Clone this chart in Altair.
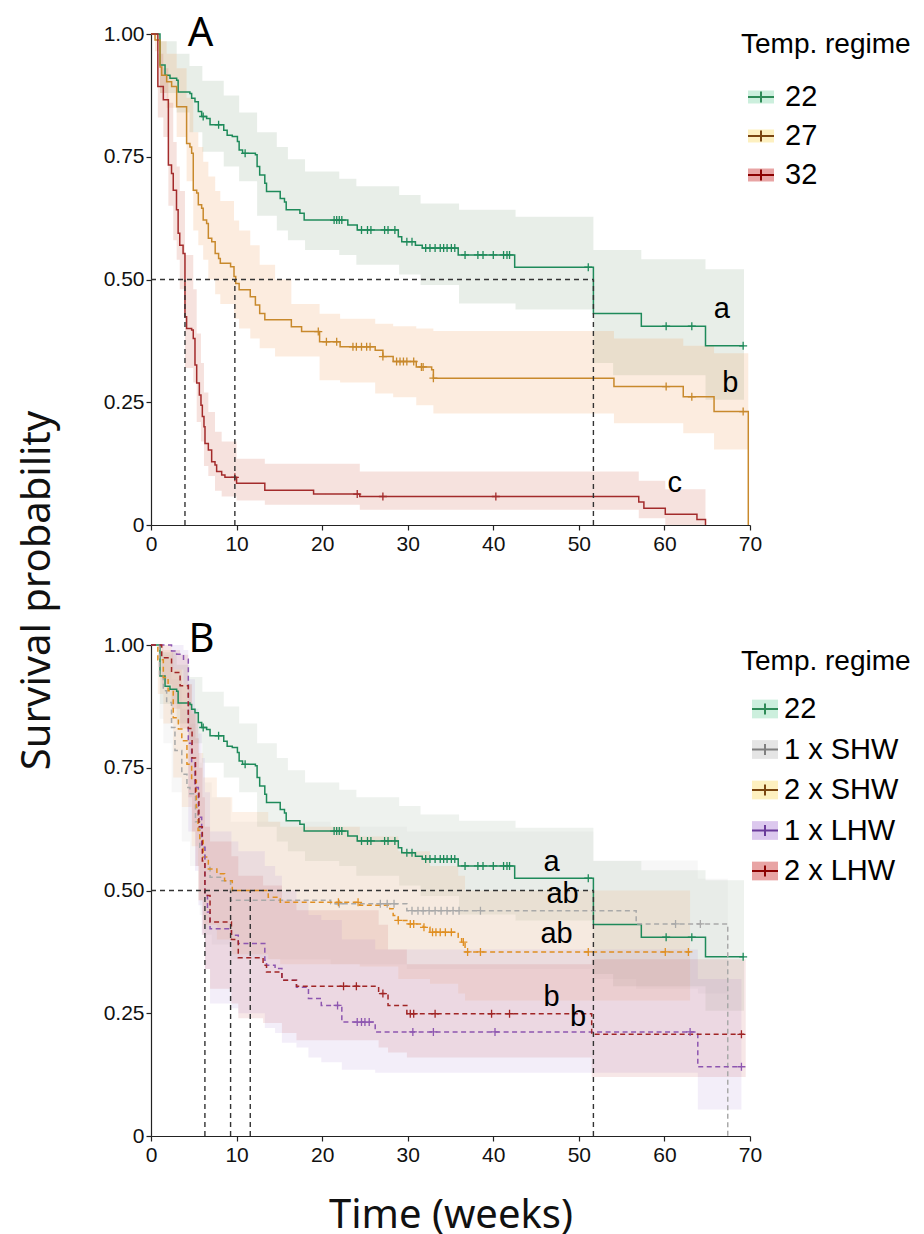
import altair as alt
import pandas as pd

X_TICKS = [0, 10, 20, 30, 40, 50, 60, 70]
Y_TICKS = [0, 0.25, 0.5, 0.75, 1.0]

# ---------------- 22 (used in A and B) ----------------
t_22 = [0, 1.05, 1.64, 2.22, 3.0, 3.17, 4.55, 4.75, 5.14, 5.53, 5.92, 6.5, 6.9, 8.5, 8.9, 9.5, 10.1, 10.3, 10.7, 12.2,
        12.4, 12.7, 13.3, 13.5, 15.1, 15.6, 15.8, 17.4, 17.9, 23.0, 24.1, 28.9, 29.3, 30.9, 31.7, 35.9, 42.5, 51.7, 57.3, 64.8]
s_22 = [1.0, 0.937, 0.916, 0.910, 0.906, 0.882, 0.879, 0.869, 0.862, 0.842, 0.832, 0.828, 0.815, 0.804, 0.794, 0.791, 0.781, 0.764, 0.757, 0.754,
        0.730, 0.713, 0.696, 0.679, 0.665, 0.658, 0.642, 0.635, 0.621, 0.611, 0.601, 0.587, 0.577, 0.570, 0.564, 0.550, 0.525, 0.431, 0.405, 0.365]
end_22 = 69.3
cens_22 = [6.1, 7.9, 11.0, 21.4, 21.7, 22.0, 22.3, 24.6, 25.3, 25.7, 27.3, 27.7, 28.5, 29.9, 30.5, 32.1, 32.6, 33.2, 33.8, 34.2,
           34.6, 35.1, 35.5, 36.7, 38.2, 38.8, 40.0, 41.2, 41.6, 41.9, 51.1, 60.2, 63.2, 69.2]
band_t_22 = [0, 1.05, 3.0, 4.5, 6.0, 8.5, 10.3, 12.4, 14.7, 16.0, 18.0, 22.0, 24.0, 29.0, 31.5, 36.0, 42.6, 51.7, 54.0, 57.3, 64.8, 69.3]
band_hi_22 = [1.0, 0.985, 0.96, 0.935, 0.905, 0.875, 0.84, 0.80, 0.77, 0.745, 0.72, 0.705, 0.69, 0.672, 0.655, 0.642, 0.628, 0.56, 0.56, 0.541, 0.521, 0.521]
band_lo_22 = [1.0, 0.88, 0.84, 0.80, 0.76, 0.73, 0.70, 0.63, 0.60, 0.58, 0.56, 0.55, 0.53, 0.51, 0.489, 0.451, 0.439, 0.33, 0.305, 0.305, 0.255, 0.255]

# ---------------- 27 (A) ----------------
t_27 = [0, 0.47, 1.05, 1.25, 1.83, 2.41, 3.0, 4.16, 4.55, 4.75, 4.94, 5.34, 5.53, 5.92, 6.1, 6.5, 6.7, 7.1, 7.5, 7.9,
        8.1, 9.3, 9.7, 9.9, 10.3, 11.6, 12.2, 12.7, 13.3, 16.4, 17.6, 19.7, 22.1, 26.2, 27.1, 28.3, 31.0, 32.8, 33.0, 54.1,
        62.2, 65.8, 69.8]
s_27 = [1.0, 0.988, 0.933, 0.916, 0.903, 0.893, 0.852, 0.777, 0.770, 0.757, 0.682, 0.676, 0.652, 0.645, 0.621, 0.614, 0.584, 0.577, 0.553, 0.543,
        0.533, 0.526, 0.506, 0.492, 0.479, 0.465, 0.448, 0.431, 0.418, 0.404, 0.394, 0.373, 0.363, 0.356, 0.343, 0.333, 0.322, 0.316, 0.299, 0.282,
        0.261, 0.231, 0.0]
end_27 = 69.8
cens_27 = [19.55, 20.5, 21.7, 23.6, 24.0, 24.6, 25.2, 25.6, 27.1, 28.7, 29.1, 29.5, 29.9, 30.7, 31.6, 31.8, 33.0, 60.2, 63.2, 69.2]
band_t_27 = [0, 0.47, 1.05, 1.83, 3.0, 4.16, 4.94, 5.53, 6.1, 6.7, 7.5, 8.1, 9.7, 10.3, 11.6, 12.7, 14.5, 16.4, 19.7, 22.1,
             26.2, 28.3, 31.0, 33.0, 54.1, 62.2, 65.8, 69.8]
band_hi_27 = [1.0, 1.0, 0.985, 0.96, 0.93, 0.87, 0.80, 0.77, 0.74, 0.71, 0.68, 0.66, 0.62, 0.60, 0.57, 0.53, 0.50, 0.45, 0.43, 0.42,
              0.41, 0.405, 0.40, 0.395, 0.38, 0.365, 0.35, 0.35]
band_lo_27 = [1.0, 0.965, 0.88, 0.85, 0.79, 0.70, 0.60, 0.57, 0.54, 0.50, 0.47, 0.45, 0.42, 0.40, 0.38, 0.36, 0.343, 0.343, 0.295, 0.29,
              0.268, 0.26, 0.244, 0.227, 0.207, 0.187, 0.154, 0.154]

# ---------------- 32 (A) ----------------
t_32 = [0, 0.8, 1.44, 2.03, 2.4, 2.6, 2.98, 3.17, 3.36, 3.75, 3.97, 4.16, 4.75, 4.94, 5.14, 5.34, 5.65, 5.84, 6.0, 6.19,
        6.31, 6.70, 7.09, 7.48, 7.67, 8.26, 8.64, 10.0, 13.3, 19.0, 24.4, 57.0, 57.6, 60.1, 63.8, 64.8]
s_32 = [1.0, 0.893, 0.866, 0.733, 0.716, 0.682, 0.642, 0.594, 0.570, 0.553, 0.424, 0.400, 0.397, 0.380, 0.326, 0.289, 0.265, 0.244, 0.221, 0.200,
        0.166, 0.153, 0.129, 0.122, 0.109, 0.102, 0.097, 0.085, 0.071, 0.063, 0.058, 0.047, 0.034, 0.022, 0.011, 0.0]
end_32 = 64.8
cens_32 = [9.8, 24.1, 27.1, 40.3]
band_t_32 = [0, 0.8, 1.44, 2.03, 2.6, 3.0, 3.36, 3.97, 4.94, 5.34, 5.84, 6.19, 6.7, 7.48, 8.26, 10.0, 13.3, 24.4, 57.0, 60.1, 64.8]
band_hi_32 = [1.0, 0.96, 0.93, 0.86, 0.78, 0.73, 0.68, 0.55, 0.48, 0.39, 0.33, 0.27, 0.23, 0.19, 0.17, 0.135, 0.125, 0.109, 0.09, 0.073, 0.073]
band_lo_32 = [1.0, 0.83, 0.79, 0.65, 0.58, 0.54, 0.48, 0.32, 0.29, 0.21, 0.17, 0.12, 0.10, 0.07, 0.058, 0.05, 0.041, 0.031, 0.014, 0.0, 0.0]

# ---------------- 1 x SHW (B) ----------------
t_g = [0, 1.0, 1.44, 1.83, 2.4, 2.8, 3.6, 4.2, 4.55, 5.2, 5.7, 6.3, 6.9, 8.3, 9.3, 21.0, 29.9, 56.7, 67.4]
s_g = [1.0, 0.94, 0.907, 0.883, 0.832, 0.785, 0.737, 0.710, 0.697, 0.64, 0.588, 0.547, 0.527, 0.520, 0.480, 0.473, 0.459, 0.432, 0.0]
end_g = 67.4
cens_g = [22.0, 26.8, 27.6, 28.4, 30.5, 31.2, 31.8, 32.5, 33.2, 33.9, 34.6, 35.3, 36.0, 38.5, 61.3, 64.2]
band_t_g = [0, 1.0, 1.44, 2.4, 3.6, 4.55, 5.7, 6.3, 7.1, 9.3, 21.0, 29.9, 51.7, 56.7, 63.9, 67.4]
band_hi_g = [1.0, 0.99, 0.98, 0.93, 0.87, 0.84, 0.76, 0.72, 0.69, 0.64, 0.63, 0.62, 0.561, 0.561, 0.524, 0.524]
band_lo_g = [1.0, 0.85, 0.80, 0.70, 0.60, 0.55, 0.45, 0.41, 0.39, 0.36, 0.35, 0.34, 0.32, 0.30, 0.29, 0.29]

# ---------------- 2 x SHW (B) ----------------
t_o = [0, 0.8, 1.44, 2.0, 2.6, 3.2, 3.6, 4.2, 4.75, 5.3, 5.5, 5.7, 6.1, 6.7, 7.7, 8.6, 9.5, 13.7, 15.1, 24.4,
       27.9, 28.3, 28.9, 29.9, 31.8, 32.6, 35.9, 36.3, 36.7]
s_o = [1.0, 0.97, 0.934, 0.907, 0.852, 0.829, 0.805, 0.757, 0.724, 0.669, 0.622, 0.602, 0.568, 0.544, 0.534, 0.520, 0.500, 0.486, 0.476, 0.470,
       0.463, 0.449, 0.439, 0.432, 0.425, 0.415, 0.405, 0.395, 0.375]
end_o = 63.0
cens_o = [21.9, 24.2, 28.9, 30.3, 30.7, 31.9, 32.9, 33.3, 33.8, 34.4, 35.1, 36.5, 37.0, 38.5, 51.1, 60.1, 62.8]
band_t_o = [0, 0.8, 1.44, 2.6, 3.6, 4.75, 5.5, 6.1, 7.7, 9.5, 13.7, 15.1, 24.4, 28.9, 32.6, 35.9, 36.7, 63.0]
band_hi_o = [1.0, 1.0, 0.99, 0.95, 0.92, 0.86, 0.78, 0.73, 0.69, 0.66, 0.64, 0.63, 0.61, 0.58, 0.55, 0.53, 0.50, 0.50]
band_lo_o = [1.0, 0.90, 0.84, 0.73, 0.67, 0.59, 0.48, 0.43, 0.40, 0.37, 0.36, 0.35, 0.345, 0.32, 0.31, 0.29, 0.276, 0.276]

# ---------------- 1 x LHW (B) ----------------
t_p = [0, 2.4, 3.0, 3.8, 4.36, 4.75, 5.14, 5.53, 5.92, 6.3, 6.6, 6.9, 9.4, 10.2, 13.3, 13.5, 14.5, 15.3, 17.0, 18.4,
       19.9, 22.3, 26.2, 63.9]
s_p = [1.0, 0.988, 0.981, 0.971, 0.80, 0.76, 0.71, 0.649, 0.588, 0.49, 0.456, 0.422, 0.409, 0.392, 0.358, 0.348, 0.341, 0.317, 0.303, 0.280,
       0.266, 0.232, 0.212, 0.141]
end_p = 69.0
cens_p = [21.8, 24.1, 24.6, 25.0, 25.5, 30.6, 33.0, 40.2, 63.0, 69.0]
band_t_p = [0, 2.4, 3.8, 4.36, 5.14, 5.53, 5.92, 6.3, 6.9, 9.4, 10.2, 13.3, 14.5, 15.3, 17.0, 18.4, 19.9, 22.3, 26.2, 63.9, 69.0]
band_hi_p = [1.0, 1.0, 0.99, 0.93, 0.87, 0.82, 0.77, 0.70, 0.62, 0.60, 0.58, 0.55, 0.53, 0.50, 0.48, 0.45, 0.44, 0.40, 0.38, 0.32, 0.32]
band_lo_p = [1.0, 0.95, 0.92, 0.62, 0.54, 0.47, 0.41, 0.34, 0.27, 0.26, 0.25, 0.22, 0.21, 0.19, 0.18, 0.16, 0.15, 0.135, 0.129, 0.054, 0.054]

# ---------------- 2 x LHW (B) ----------------
t_r = [0, 1.25, 2.4, 3.4, 4.36, 4.8, 5.2, 5.6, 6.0, 6.3, 6.9, 9.4, 10.2, 13.1, 13.5, 15.3, 17.0, 26.6, 27.7, 29.9, 51.5]
s_r = [1.0, 0.974, 0.944, 0.917, 0.83, 0.77, 0.70, 0.63, 0.56, 0.49, 0.436, 0.40, 0.363, 0.348, 0.334, 0.317, 0.305, 0.29, 0.266, 0.249, 0.207]
end_r = 69.5
cens_r = [22.5, 24.0, 27.1, 30.3, 30.7, 33.2, 39.8, 41.9, 69.0]
band_t_r = [0, 1.25, 2.4, 3.4, 4.36, 4.8, 5.2, 5.6, 6.0, 6.3, 6.9, 9.4, 10.2, 13.1, 15.3, 17.0, 26.6, 27.7, 29.9, 51.5, 69.5]
band_hi_r = [1.0, 1.0, 0.99, 0.98, 0.92, 0.87, 0.81, 0.75, 0.69, 0.63, 0.60, 0.57, 0.53, 0.51, 0.48, 0.46, 0.43, 0.38, 0.35, 0.36, 0.36]
band_lo_r = [1.0, 0.92, 0.87, 0.83, 0.69, 0.62, 0.55, 0.48, 0.41, 0.34, 0.30, 0.27, 0.24, 0.23, 0.21, 0.195, 0.18, 0.17, 0.16, 0.12, 0.12]

# medians and significance letters
medians_A = [3.97, 9.8, 51.7]
medians_B = [6.3, 9.3, 11.6, 51.7]
letters_A = ["a", "b", "c"]
letters_A_t = [66.7, 67.7, 61.2]
letters_A_s = [0.439, 0.290, 0.086]
letters_B = ["a", "ab", "ab", "b", "b"]
letters_B_t = [46.8, 48.1, 47.4, 46.8, 49.9]
letters_B_s = [0.558, 0.493, 0.411, 0.284, 0.243]

groups_A = ["22", "27", "32"]
groups_B = ["22", "1 x SHW", "2 x SHW", "1 x LHW", "2 x LHW"]

# styles
line_A = ["#1e8a5a", "#c8892c", "#a32b2b"]
band_A = ["#8aa88a", "#f0a060", "#d0705a"]
dash_A = [[1, 0], [1, 0], [1, 0]]
legfill_A = ["#ccefdd", "#fdf0c0", "#e8a4a4"]
legline_A = ["#2e8b57", "#7a4510", "#8b0000"]

line_B = ["#1e8a5a", "#a9a9a9", "#e08f22", "#8d56b0", "#a02525"]
band_B = ["#8aa88a", "#c8c8c8", "#f0a060", "#b090d8", "#c86060"]
dash_B = [[1, 0], [5, 3.5], [5, 3.5], [5, 3.5], [5, 3.5]]
legfill_B = ["#ccefdd", "#e5e5e5", "#fdf0c0", "#dcc8ee", "#e8a4a4"]
legline_B = ["#2e8b57", "#808080", "#7a4510", "#6a3a9a", "#8b0000"]

PLUS = "M-1,0H1M0,-1V1"


def step_at(ts, ss, c):
    v = ss[0]
    for t, s in zip(ts, ss):
        if t <= c:
            v = s
        else:
            break
    return v


def curve(name, t, s, end, cens, bt, blo, bhi):
    return dict(name=name, t=t, s=s, end=end, cens=cens, bt=bt, blo=blo, bhi=bhi)


curves_A = [
    curve("22", t_22, s_22, end_22, cens_22, band_t_22, band_lo_22, band_hi_22),
    curve("27", t_27, s_27, end_27, cens_27, band_t_27, band_lo_27, band_hi_27),
    curve("32", t_32, s_32, end_32, cens_32, band_t_32, band_lo_32, band_hi_32),
]
curves_B = [
    curve("22", t_22, s_22, end_22, cens_22, band_t_22, band_lo_22, band_hi_22),
    curve("1 x SHW", t_g, s_g, end_g, cens_g, band_t_g, band_lo_g, band_hi_g),
    curve("2 x SHW", t_o, s_o, end_o, cens_o, band_t_o, band_lo_o, band_hi_o),
    curve("1 x LHW", t_p, s_p, end_p, cens_p, band_t_p, band_lo_p, band_hi_p),
    curve("2 x LHW", t_r, s_r, end_r, cens_r, band_t_r, band_lo_r, band_hi_r),
]


def build_panel(curves, groups, lcol, bcol, band_op, dashes, lfill, lline, medians, ltxt, lt, ls, tag, tag_t, tag_s,
                leg_x, leg_lab_dx, leg_range, leg_title_x, leg_title_y, leg_rect, x_title, y_axis_title):
    line_rows, band_rows, cens_rows = [], [], []
    for c in curves:
        for t, s in zip(c["t"], c["s"]):
            line_rows.append({"group": c["name"], "t": t, "s": s})
        if c["end"] > c["t"][-1]:
            line_rows.append({"group": c["name"], "t": c["end"], "s": c["s"][-1]})
        for t, lo, hi in zip(c["bt"], c["blo"], c["bhi"]):
            band_rows.append({"group": c["name"], "t": t, "lo": lo, "hi": hi})
        for ct in c["cens"]:
            cens_rows.append({"group": c["name"], "t": ct, "s": step_at(c["t"], c["s"], ct)})
    med_rows = [{"x": m, "x2": m, "y": 0.0, "y2": 0.5} for m in medians]
    med_rows.append({"x": 0.0, "x2": max(medians), "y": 0.5, "y2": 0.5})
    let_df = pd.DataFrame({"txt": ltxt, "t": lt, "s": ls})
    tag_df = pd.DataFrame({"txt": [tag], "t": [tag_t], "s": [tag_s]})

    xs = alt.Scale(domain=[0, 70], nice=False, zero=False)
    ys = alt.Scale(domain=[0, 1], nice=False, zero=False)
    xaxis = alt.Axis(values=X_TICKS, format="d", title=x_title, labelPadding=3, titlePadding=30,
                     tickSize=5, labelFlush=False)
    if y_axis_title:
        yaxis = alt.Axis(values=Y_TICKS, title=y_axis_title, tickSize=5, labelPadding=2,
                         labelExpr="datum.value == 0 ? '0' : format(datum.value, '.2f')",
                         titleX=-114, titleY=556, titleAngle=270, titleAlign="center", titleBaseline="middle")
    else:
        yaxis = alt.Axis(values=Y_TICKS, title=None, tickSize=5, labelPadding=2,
                         labelExpr="datum.value == 0 ? '0' : format(datum.value, '.2f')")

    def X(f):
        return alt.X(f, scale=xs, axis=xaxis)

    def Y(f):
        return alt.Y(f, scale=ys, axis=yaxis)

    fill_enc = alt.Fill("group:N", scale=alt.Scale(domain=groups, range=bcol), legend=None)
    stroke_enc = alt.Stroke("group:N", scale=alt.Scale(domain=groups, range=lcol), legend=None)
    dash_enc = alt.StrokeDash("group:N", scale=alt.Scale(domain=groups, range=dashes), legend=None)

    bands = alt.Chart(pd.DataFrame(band_rows)).mark_area(interpolate="step-after", fillOpacity=band_op, strokeWidth=0).encode(
        x=X("t:Q"), y=Y("lo:Q"), y2="hi:Q", fill=fill_enc)
    lines = alt.Chart(pd.DataFrame(line_rows)).mark_line(interpolate="step-after", strokeWidth=1.5).encode(
        x=X("t:Q"), y=Y("s:Q"), stroke=stroke_enc, strokeDash=dash_enc)
    cens = alt.Chart(pd.DataFrame(cens_rows)).mark_point(shape=PLUS, filled=False, size=64, strokeWidth=1.3, opacity=1).encode(
        x=X("t:Q"), y=Y("s:Q"), stroke=stroke_enc)
    meds = alt.Chart(pd.DataFrame(med_rows)).mark_rule(strokeDash=[5, 4], color="#333333", strokeWidth=1.4).encode(
        x=X("x:Q"), x2="x2:Q", y=Y("y:Q"), y2="y2:Q")
    lets = alt.Chart(let_df).mark_text(font="Liberation Sans", fontSize=29, color="black", baseline="middle").encode(
        x=X("t:Q"), y=Y("s:Q"), text="txt:N")
    tags = alt.Chart(tag_df).mark_text(font="Noto Sans", fontSize=40, color="black", baseline="middle").encode(
        x=X("t:Q"), y=Y("s:Q"), text="txt:N")
    main = alt.layer(bands, lines, cens, meds, lets, tags)

    # legend
    leg_df = pd.DataFrame({"group": groups})
    leg_y = alt.Y("group:N", scale=alt.Scale(type="point", domain=groups, range=leg_range, padding=0), axis=None)
    key_bg = alt.Chart(leg_df).mark_point(shape=leg_rect, filled=True, size=676, opacity=1, strokeWidth=0).encode(
        x=alt.value(leg_x), y=leg_y,
        fill=alt.Fill("group:N", scale=alt.Scale(domain=groups, range=lfill), legend=None))
    key_ln = alt.Chart(leg_df).mark_point(shape="M-1,0H1M0,-0.42V0.42", filled=False, size=676, strokeWidth=2, opacity=1).encode(
        x=alt.value(leg_x), y=leg_y,
        stroke=alt.Stroke("group:N", scale=alt.Scale(domain=groups, range=lline), legend=None))
    key_tx = alt.Chart(leg_df).mark_text(align="left", baseline="middle", font="Liberation Sans", fontSize=29, color="black").encode(
        x=alt.value(leg_x + leg_lab_dx), y=leg_y, text="group:N")
    key_ti = alt.Chart(pd.DataFrame({"txt": ["Temp. regime"]})).mark_text(
        align="left", baseline="alphabetic", font="Liberation Sans", fontSize=28, color="black").encode(
        x=alt.value(leg_title_x), y=alt.value(leg_title_y), text="txt:N")
    legend = alt.layer(key_bg, key_ln, key_tx, key_ti)

    return alt.layer(main, legend).resolve_scale(y="independent", fill="independent", stroke="independent").properties(
        width=599, height=491)


panel_A = build_panel(curves_A, groups_A, line_A, band_A, 0.2, dash_A, legfill_A, legline_A, medians_A,
                      letters_A, letters_A_t, letters_A_s, "A", 5.8, 1.0,
                      leg_x=610, leg_lab_dx=24, leg_range=[63, 141], leg_title_x=590, leg_title_y=19,
                      leg_rect="M-1,-0.5H1V0.5H-1Z", x_title=None, y_axis_title="Survival probability")
panel_B = build_panel(curves_B, groups_B, line_B, band_B, 0.15, dash_B, legfill_B, legline_B, medians_B,
                      letters_B, letters_B_t, letters_B_s, "B", 5.9, 1.01,
                      leg_x=614, leg_lab_dx=19, leg_range=[64, 226], leg_title_x=590, leg_title_y=25,
                      leg_rect="M-1,-0.72H1V0.72H-1Z", x_title="Time (weeks)", y_axis_title=None)

chart = alt.vconcat(panel_A, panel_B, spacing=120, bounds="flush").resolve_scale(
    fill="independent", stroke="independent", strokeDash="independent"
).properties(
    padding={"left": 9, "top": 6, "right": 0, "bottom": 10}
).configure_axis(
    grid=False, domainColor="#222222", tickColor="#222222", domainWidth=1.2, tickWidth=1.2,
    labelColor="#111111", labelFont="Liberation Sans", labelFontSize=21,
    titleFont="Noto Sans", titleFontSize=40, titleFontWeight="normal", titleColor="#111111"
).configure_view(stroke=None)

chart.save("out.html", embed_options={"renderer": "svg", "actions": False})
